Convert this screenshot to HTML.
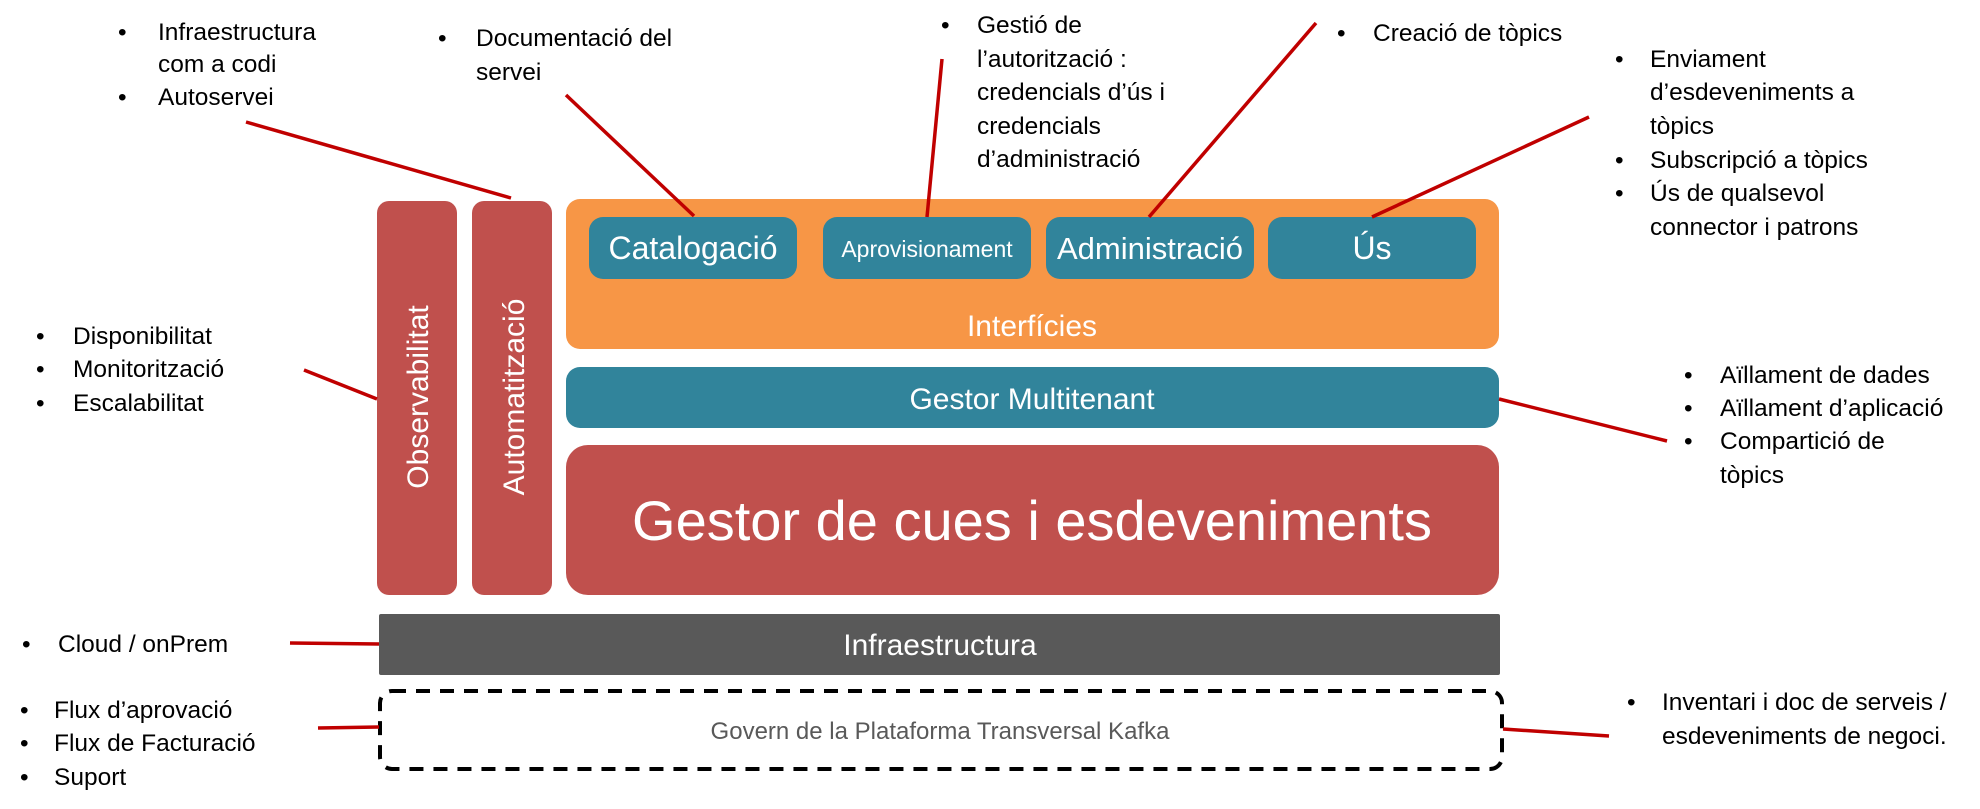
<!DOCTYPE html>
<html><head><meta charset="utf-8"><style>
html,body{margin:0;padding:0;background:#fff;}
svg{display:block;}
.w{fill:#fff;font-family:"Liberation Sans",Arial,sans-serif;}
.t{fill:#000;font-family:"Liberation Sans Narrow","Liberation Sans",sans-serif;font-size:24.5px;}
</style></head><body>
<svg width="1980" height="809" viewBox="0 0 1980 809" xmlns="http://www.w3.org/2000/svg">
<rect x="377" y="201" width="80" height="394" rx="12" fill="#C0504D"/>
<rect x="472" y="201" width="80" height="394" rx="12" fill="#C0504D"/>
<text class="w" font-size="30" text-anchor="middle" transform="translate(428,397) rotate(-90)">Observabilitat</text>
<text class="w" font-size="30" text-anchor="middle" transform="translate(524,397) rotate(-90)">Automatització</text>
<rect x="566" y="199" width="933" height="150" rx="14" fill="#F79646"/>
<rect x="589" y="217" width="208" height="62" rx="14" fill="#31849B"/>
<rect x="823" y="217" width="208" height="62" rx="14" fill="#31849B"/>
<rect x="1046" y="217" width="208" height="62" rx="14" fill="#31849B"/>
<rect x="1268" y="217" width="208" height="62" rx="14" fill="#31849B"/>
<text class="w" font-size="32" x="693" y="259" text-anchor="middle">Catalogació</text>
<text class="w" font-size="23" x="927" y="257" text-anchor="middle">Aprovisionament</text>
<text class="w" font-size="31" x="1150" y="259" text-anchor="middle">Administració</text>
<text class="w" font-size="32" x="1372" y="259" text-anchor="middle">Ús</text>
<text class="w" font-size="30" x="1032" y="336" text-anchor="middle">Interfícies</text>
<rect x="566" y="367" width="933" height="61" rx="14" fill="#31849B"/>
<text class="w" font-size="30" x="1032" y="409" text-anchor="middle">Gestor Multitenant</text>
<rect x="566" y="445" width="933" height="150" rx="22" fill="#C0504D"/>
<text class="w" font-size="56" x="1032" y="540" text-anchor="middle">Gestor de cues i esdeveniments</text>
<rect x="379" y="614" width="1121" height="61" rx="2" fill="#595959"/>
<text class="w" font-size="30" x="940" y="655" text-anchor="middle">Infraestructura</text>
<rect x="380" y="691" width="1122" height="78" rx="12" fill="none" stroke="#000" stroke-width="4" stroke-dasharray="14,10"/>
<text font-family="Liberation Sans,Arial,sans-serif" font-size="24" fill="#595959" x="940" y="739" text-anchor="middle">Govern de la Plataforma Transversal Kafka</text>
<g stroke="#C00000" stroke-width="3.5" fill="none">
<line x1="246" y1="122" x2="511" y2="198"/>
<line x1="566" y1="95" x2="694" y2="216"/>
<line x1="942" y1="59" x2="927" y2="217"/>
<line x1="1316" y1="23" x2="1149" y2="217"/>
<line x1="1589" y1="117" x2="1372" y2="217"/>
<line x1="304" y1="370" x2="377" y2="399"/>
<line x1="1499" y1="399" x2="1667" y2="441"/>
<line x1="290" y1="643" x2="379" y2="644"/>
<line x1="318" y1="728" x2="379" y2="727"/>
<line x1="1503" y1="729" x2="1609" y2="736"/>
</g>
<g class="t">
<text x="118" y="40">•</text><text x="158" y="40">Infraestructura</text>
<text x="158" y="72">com a codi</text>
<text x="118" y="105">•</text><text x="158" y="105">Autoservei</text>
<text x="438" y="46">•</text><text x="476" y="46">Documentació del</text>
<text x="476" y="80">servei</text>
<text x="941" y="33">•</text><text x="977" y="33">Gestió de</text>
<text x="977" y="67">l’autorització :</text>
<text x="977" y="100">credencials d’ús i</text>
<text x="977" y="134">credencials</text>
<text x="977" y="167">d’administració</text>
<text x="1337" y="41">•</text><text x="1373" y="41">Creació de tòpics</text>
<text x="1615" y="67">•</text><text x="1650" y="67">Enviament</text>
<text x="1650" y="100">d’esdeveniments a</text>
<text x="1650" y="134">tòpics</text>
<text x="1615" y="168">•</text><text x="1650" y="168">Subscripció a tòpics</text>
<text x="1615" y="201">•</text><text x="1650" y="201">Ús de qualsevol</text>
<text x="1650" y="235">connector i patrons</text>
<text x="36" y="344">•</text><text x="73" y="344">Disponibilitat</text>
<text x="36" y="377">•</text><text x="73" y="377">Monitorització</text>
<text x="36" y="411">•</text><text x="73" y="411">Escalabilitat</text>
<text x="1684" y="383">•</text><text x="1720" y="383">Aïllament de dades</text>
<text x="1684" y="416">•</text><text x="1720" y="416">Aïllament d’aplicació</text>
<text x="1684" y="449">•</text><text x="1720" y="449">Compartició de</text>
<text x="1720" y="483">tòpics</text>
<text x="22" y="652">•</text><text x="58" y="652">Cloud / onPrem</text>
<text x="20" y="718">•</text><text x="54" y="718">Flux d’aprovació</text>
<text x="20" y="751">•</text><text x="54" y="751">Flux de Facturació</text>
<text x="20" y="785">•</text><text x="54" y="785">Suport</text>
<text x="1627" y="710">•</text><text x="1662" y="710">Inventari i doc de serveis /</text>
<text x="1662" y="744">esdeveniments de negoci.</text>
</g>
</svg>
</body></html>
